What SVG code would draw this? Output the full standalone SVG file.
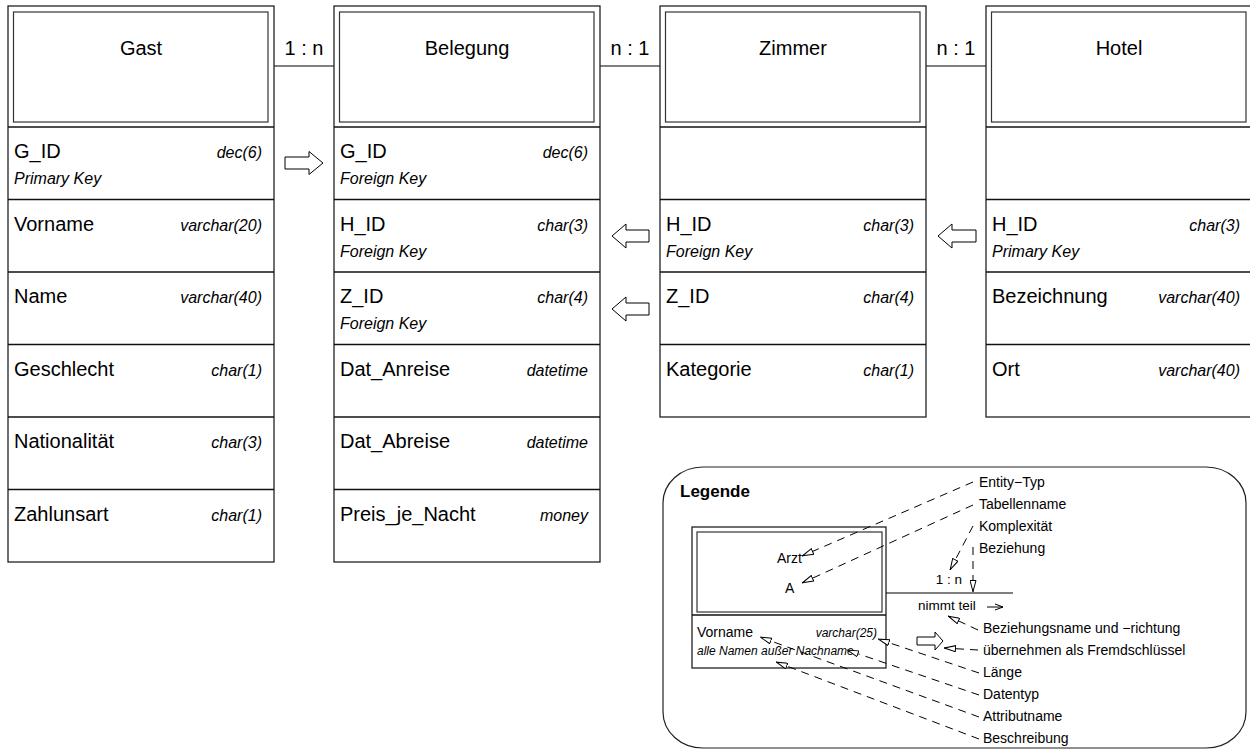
<svg xmlns="http://www.w3.org/2000/svg" width="1250" height="753" viewBox="0 0 1250 753">
<style>
text{font-family:"Liberation Sans",Arial,Helvetica,sans-serif;fill:#000}
.box{fill:#fff;stroke:#222;stroke-width:1.3}
.inner{fill:none;stroke:#333;stroke-width:1.2}
.sep{stroke:#111;stroke-width:1.3}
.t{font-size:20px;text-anchor:middle}
.n{font-size:20px}
.ty{font-size:16px;font-style:italic;text-anchor:end}
.k{font-size:16px;font-style:italic}
.rel{stroke:#000;stroke-width:1.2;fill:none}
.card{font-size:20px;text-anchor:middle}
.blk{fill:#fff;stroke:#000;stroke-width:1}
.lab{font-size:14px}
.dash{stroke:#000;stroke-width:1;fill:none;stroke-dasharray:8 6;marker-end:url(#oa)}
</style>
<defs>
<marker id="oa" viewBox="0 0 12 7" refX="12" refY="3.5" markerWidth="12" markerHeight="7" markerUnits="userSpaceOnUse" orient="auto">
<path d="M0.5,0.5 L11.5,3.5 L0.5,6.5 Z" fill="#fff" stroke="#000" stroke-width="1" stroke-dasharray="none"/>
</marker>
</defs>

<g id="connectors">
<line class="rel" x1="274" y1="66" x2="334" y2="66"/>
<text class="card" x="304" y="55">1 : n</text>
<line class="rel" x1="600" y1="66" x2="660" y2="66"/>
<text class="card" x="630" y="55">n : 1</text>
<line class="rel" x1="926" y1="66" x2="986" y2="66"/>
<text class="card" x="956" y="55">n : 1</text>
<polygon class="blk" points="285,157 309,157 309,151.5 323,163 309,174.5 309,169 285,169"/>
<polygon class="blk" points="612,236 626,224 626,230 649,230 649,242 626,242 626,248"/>
<polygon class="blk" points="612,309 626,297 626,303 649,303 649,315 626,315 626,321"/>
<polygon class="blk" points="938,236 952,224 952,230 976,230 976,242 952,242 952,248"/>
</g>

<g id="gast">
<rect class="box" x="8" y="6" width="266" height="556"/>
<rect class="inner" x="13.5" y="12" width="254.5" height="110"/>
<line class="sep" x1="8" y1="127" x2="274" y2="127"/>
<line class="sep" x1="8" y1="199.5" x2="274" y2="199.5"/>
<line class="sep" x1="8" y1="272" x2="274" y2="272"/>
<line class="sep" x1="8" y1="344.5" x2="274" y2="344.5"/>
<line class="sep" x1="8" y1="417" x2="274" y2="417"/>
<line class="sep" x1="8" y1="489.5" x2="274" y2="489.5"/>
<text class="t" x="141" y="55">Gast</text>
<text class="n" x="14" y="158">G_ID</text><text class="ty" x="262" y="158">dec(6)</text><text class="k" x="14" y="184">Primary Key</text>
<text class="n" x="14" y="231">Vorname</text><text class="ty" x="262" y="231">varchar(20)</text>
<text class="n" x="14" y="303">Name</text><text class="ty" x="262" y="303">varchar(40)</text>
<text class="n" x="14" y="376">Geschlecht</text><text class="ty" x="262" y="376">char(1)</text>
<text class="n" x="14" y="448">Nationalität</text><text class="ty" x="262" y="448">char(3)</text>
<text class="n" x="14" y="521">Zahlunsart</text><text class="ty" x="262" y="521">char(1)</text>
</g>

<g id="belegung">
<rect class="box" x="334" y="6" width="266" height="556"/>
<rect class="inner" x="339.5" y="12" width="254.5" height="110"/>
<line class="sep" x1="334" y1="127" x2="600" y2="127"/>
<line class="sep" x1="334" y1="199.5" x2="600" y2="199.5"/>
<line class="sep" x1="334" y1="272" x2="600" y2="272"/>
<line class="sep" x1="334" y1="344.5" x2="600" y2="344.5"/>
<line class="sep" x1="334" y1="417" x2="600" y2="417"/>
<line class="sep" x1="334" y1="489.5" x2="600" y2="489.5"/>
<text class="t" x="467" y="55">Belegung</text>
<text class="n" x="340" y="158">G_ID</text><text class="ty" x="588" y="158">dec(6)</text><text class="k" x="340" y="184">Foreign Key</text>
<text class="n" x="340" y="231">H_ID</text><text class="ty" x="588" y="231">char(3)</text><text class="k" x="340" y="257">Foreign Key</text>
<text class="n" x="340" y="303">Z_ID</text><text class="ty" x="588" y="303">char(4)</text><text class="k" x="340" y="329">Foreign Key</text>
<text class="n" x="340" y="376">Dat_Anreise</text><text class="ty" x="588" y="376">datetime</text>
<text class="n" x="340" y="448">Dat_Abreise</text><text class="ty" x="588" y="448">datetime</text>
<text class="n" x="340" y="521">Preis_je_Nacht</text><text class="ty" x="588" y="521">money</text>
</g>

<g id="zimmer">
<rect class="box" x="660" y="6" width="266" height="411"/>
<rect class="inner" x="665.5" y="12" width="254.5" height="110"/>
<line class="sep" x1="660" y1="127" x2="926" y2="127"/>
<line class="sep" x1="660" y1="199.5" x2="926" y2="199.5"/>
<line class="sep" x1="660" y1="272" x2="926" y2="272"/>
<line class="sep" x1="660" y1="344.5" x2="926" y2="344.5"/>
<text class="t" x="793" y="55">Zimmer</text>
<text class="n" x="666" y="231">H_ID</text><text class="ty" x="914" y="231">char(3)</text><text class="k" x="666" y="257">Foreign Key</text>
<text class="n" x="666" y="303">Z_ID</text><text class="ty" x="914" y="303">char(4)</text>
<text class="n" x="666" y="376">Kategorie</text><text class="ty" x="914" y="376">char(1)</text>
</g>

<g id="hotel">
<rect class="box" x="986" y="6" width="266" height="411"/>
<rect class="inner" x="991.5" y="12" width="254.5" height="110"/>
<line class="sep" x1="986" y1="127" x2="1252" y2="127"/>
<line class="sep" x1="986" y1="199.5" x2="1252" y2="199.5"/>
<line class="sep" x1="986" y1="272" x2="1252" y2="272"/>
<line class="sep" x1="986" y1="344.5" x2="1252" y2="344.5"/>
<text class="t" x="1119" y="55">Hotel</text>
<text class="n" x="992" y="231">H_ID</text><text class="ty" x="1240" y="231">char(3)</text><text class="k" x="992" y="257">Primary Key</text>
<text class="n" x="992" y="303">Bezeichnung</text><text class="ty" x="1240" y="303">varchar(40)</text>
<text class="n" x="992" y="376">Ort</text><text class="ty" x="1240" y="376">varchar(40)</text>
</g>

<g id="legende">
<rect x="663" y="467" width="583" height="281" rx="40" ry="36" fill="#fff" stroke="#222" stroke-width="1.2"/>
<text x="680" y="497" font-size="17" font-weight="bold">Legende</text>
<rect class="box" x="692" y="527" width="194" height="141" stroke-width="1.1"/>
<rect class="inner" x="697" y="532" width="185" height="80" stroke-width="1"/>
<line class="sep" x1="692" y1="615" x2="886" y2="615" stroke-width="1.1"/>
<text x="777" y="563" font-size="14">Arzt</text>
<text x="785" y="593" font-size="14">A</text>
<text x="697" y="637" font-size="14">Vorname</text>
<text x="877" y="637" font-size="12" font-style="italic" text-anchor="end">varchar(25)</text>
<text x="697" y="655" font-size="12" font-style="italic">alle Namen außer Nachname</text>
<line x1="886" y1="593" x2="1013" y2="593" stroke="#000" stroke-width="1.2"/>
<text x="949" y="584" font-size="13.5" text-anchor="middle">1 : n</text>
<text x="918" y="610" font-size="13.5">nimmt teil</text>
<path d="M987,607 L1003,607 M995,604 L1003,607 L995,610" fill="none" stroke="#000" stroke-width="1"/>
<polygon class="blk" points="917,637 935,637 935,632 943,641 935,650 935,645 917,645"/>

<text class="lab" x="979" y="487">Entity−Typ</text>
<text class="lab" x="979" y="509">Tabellenname</text>
<text class="lab" x="979" y="531">Komplexität</text>
<text class="lab" x="979" y="553">Beziehung</text>
<text class="lab" x="983" y="633">Beziehungsname und −richtung</text>
<text class="lab" x="983" y="655">übernehmen als Fremdschlüssel</text>
<text class="lab" x="983" y="677">Länge</text>
<text class="lab" x="983" y="699">Datentyp</text>
<text class="lab" x="983" y="721">Attributname</text>
<text class="lab" x="983" y="743">Beschreibung</text>

<line class="dash" x1="973" y1="482" x2="802" y2="556"/>
<line class="dash" x1="973" y1="505" x2="802" y2="583"/>
<line class="dash" x1="973" y1="526" x2="950" y2="570"/>
<line class="dash" x1="973" y1="547" x2="973" y2="592"/>
<line class="dash" x1="978" y1="630" x2="948" y2="616"/>
<line class="dash" x1="978" y1="650" x2="944" y2="648"/>
<line class="dash" x1="979" y1="673" x2="878" y2="639"/>
<line class="dash" x1="979" y1="695" x2="847" y2="650"/>
<line class="dash" x1="979" y1="717" x2="760" y2="637"/>
<line class="dash" x1="979" y1="739" x2="776" y2="662"/>
</g>
</svg>
